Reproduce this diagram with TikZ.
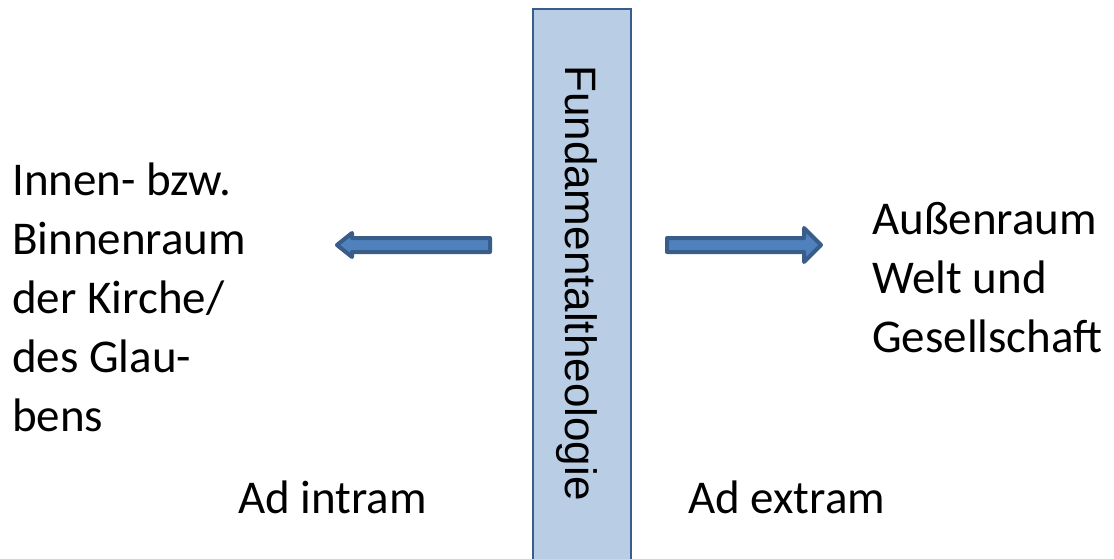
\documentclass[tikz,border=0pt]{standalone}
\usepackage{fontspec}
\setmainfont{Carlito}
\newfontfamily\arialf{Liberation Sans}
\definecolor{barfill}{HTML}{B9CDE5}
\definecolor{bardraw}{HTML}{385D8A}
\definecolor{arrfill}{HTML}{4F81BD}
\begin{document}
\begin{tikzpicture}[x=1pt,y=-1pt,
  txt/.style={anchor=base west, inner sep=0pt, font=\fontsize{47}{59}\selectfont},
  vtxt/.style={rotate=-90, anchor=base west, inner sep=0pt, font=\arialf\fontsize{44}{50}\selectfont},
  bararea/.style={fill=barfill, draw=bardraw, line width=2.5pt},
  blockarrow/.style={fill=arrfill, draw=bardraw, line width=4pt, line join=round}]
\useasboundingbox (0,0) rectangle (1114,559);
\begin{scope}
  \clip (0,0) rectangle (1114,559);
  \draw[bararea] (533,9) rectangle (631,585);
\end{scope}
\node[vtxt] (ft) at (565,65) {Fundamentaltheologie};
% arrows
\draw[blockarrow] (490,238) -- (352,238) -- (352,233) -- (337,245) -- (352,257) -- (352,252) -- (490,252) -- cycle;
\draw[blockarrow] (667,238) -- (804,238) -- (804,228) -- (821,245) -- (804,262) -- (804,252) -- (667,252) -- cycle;
% left text
\node[txt] (l1) at (12,195) {Innen- bzw.};
\node[txt] (l2) at (12,254) {Binnenraum};
\node[txt] (l3) at (12,313) {der Kirche/};
\node[txt] (l4) at (12,372) {des Glau-};
\node[txt] (l5) at (12,431) {bens};
% right text
\node[txt] (r1) at (872,234) {Außenraum};
\node[txt] (r2) at (872,293) {Welt und};
\node[txt] (r3) at (872,352) {Gesellschaft};
% bottom
\node[txt] (ai) at (238,513) {Ad intram};
\node[txt] (ae) at (688,513) {Ad extram};
\end{tikzpicture}
\end{document}
